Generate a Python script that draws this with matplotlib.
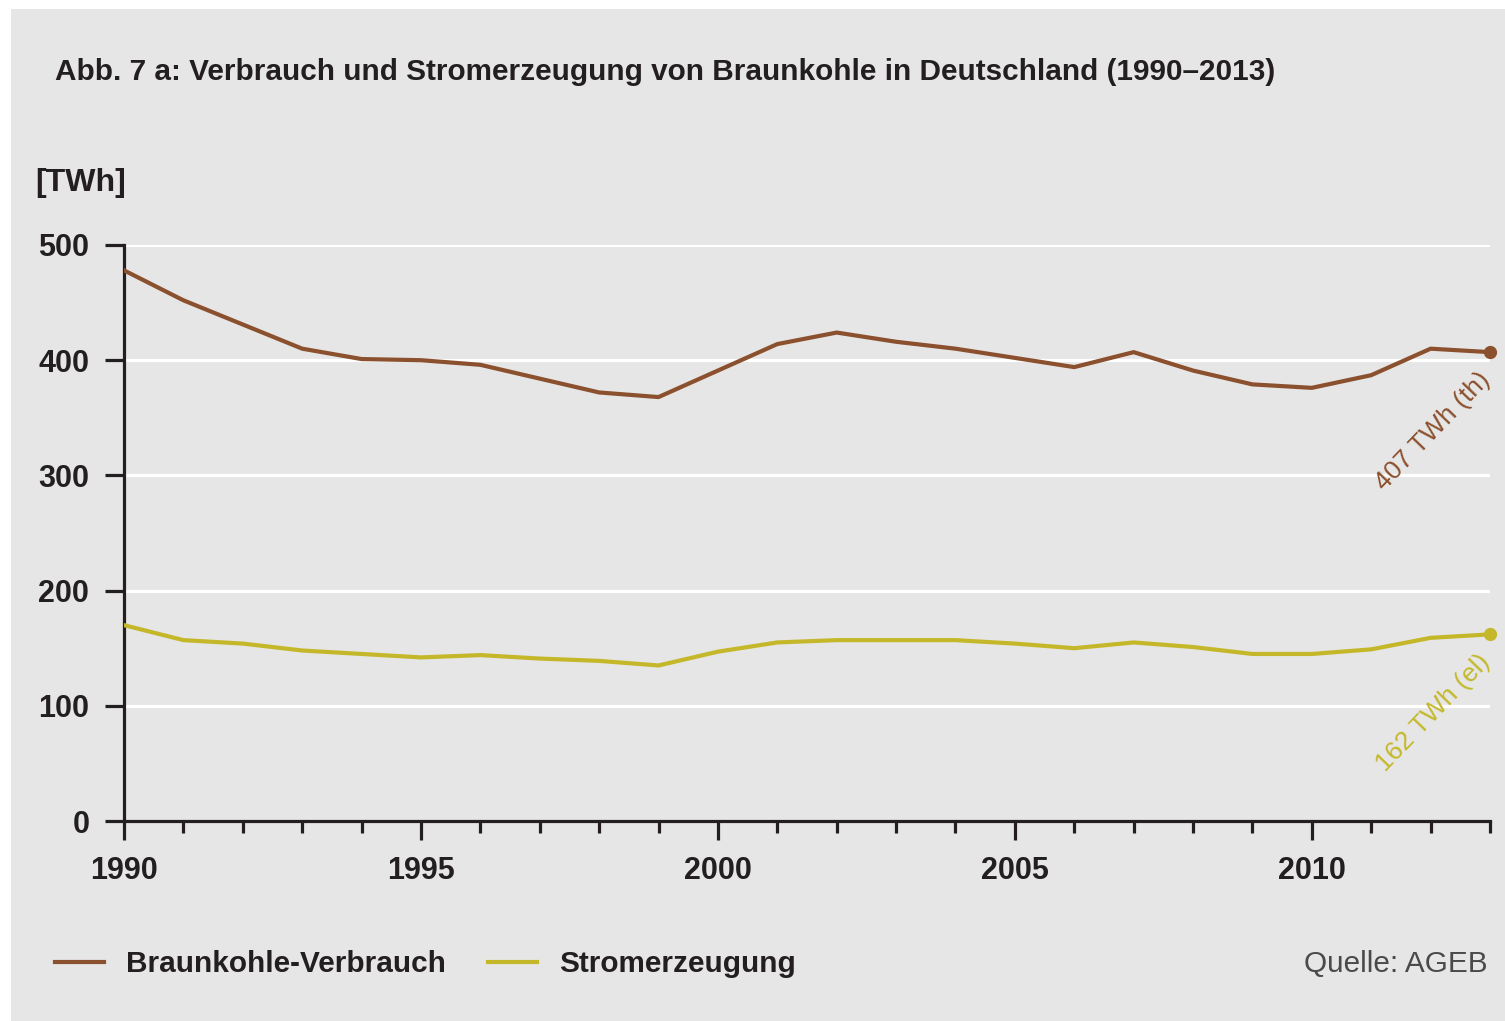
import matplotlib
matplotlib.use("Agg")
import matplotlib.pyplot as plt
from matplotlib.patches import Rectangle
from matplotlib.ticker import MultipleLocator

# Braunkohle in Deutschland, 1990–2013 (TWh)
years = list(range(1990, 2014))
verbrauch = [478, 452, 431, 410, 401, 400, 396, 384, 372, 368,
             391, 414, 424, 416, 410, 402, 394, 407, 391, 379,
             376, 387, 410, 407]
strom = [170, 157, 154, 148, 145, 142, 144, 141, 139, 135,
         147, 155, 157, 157, 157, 154, 150, 155, 151, 145,
         145, 149, 159, 162]

series_names = ["Braunkohle-Verbrauch", "Stromerzeugung"]
y_ticks = [0, 100, 200, 300, 400, 500]
x_ticks = [1990, 1995, 2000, 2005, 2010]

title = "Abb. 7 a: Verbrauch und Stromerzeugung von Braunkohle in Deutschland (1990–2013)"
unit = "[TWh]"
source = "Quelle: AGEB"

BROWN = "#8b502d"
YELLOW = "#c4b82a"
BG = "#e6e6e6"
INK = "#231f20"
FONT = ["Liberation Sans", "DejaVu Sans"]

plt.rcParams["font.family"] = FONT

W, H = 1505, 1021
fig = plt.figure(figsize=(W / 100, H / 100), dpi=100, facecolor="white")
fig.patches.append(Rectangle((11 / W, 0), 1 - 11 / W, (H - 9) / H,
                             transform=fig.transFigure, facecolor=BG,
                             edgecolor="none", zorder=-10))

left, right = 124 / W, 1490 / W
bottom, top = (H - 821) / H, (H - 245) / H
ax = fig.add_axes([left, bottom, right - left, top - bottom])
ax.set_facecolor(BG)

ax.set_xlim(1990, 2013)
ax.set_ylim(0, 500)

for v in y_ticks[1:]:
    ax.axhline(v, color="white", lw=2.3, zorder=1)

l1, = ax.plot(years, verbrauch, color=BROWN, lw=3.0, zorder=3,
              solid_joinstyle="round", label=series_names[0])
l2, = ax.plot(years, strom, color=YELLOW, lw=3.0, zorder=3,
              solid_joinstyle="round", label=series_names[1])
ax.plot(years[-1], verbrauch[-1], "o", color=BROWN, ms=8.5, clip_on=False, zorder=4)
ax.plot(years[-1], strom[-1], "o", color=YELLOW, ms=8.5, clip_on=False, zorder=4)

# end-value labels, running diagonally below the final points
label_kw = dict(xytext=(-9, -11), textcoords="offset points", rotation=46,
                rotation_mode="anchor", ha="right", va="top",
                fontsize=19, annotation_clip=False)
ax.annotate(f"{verbrauch[-1]} TWh (th)", xy=(years[-1], verbrauch[-1]),
            color=BROWN, **label_kw)
ax.annotate(f"{strom[-1]} TWh (el)", xy=(years[-1], strom[-1]),
            color=YELLOW, **label_kw)

for s in ("top", "right"):
    ax.spines[s].set_visible(False)
for s in ("left", "bottom"):
    ax.spines[s].set_color(INK)
    ax.spines[s].set_linewidth(2.3)

ax.set_yticks(y_ticks)
ax.set_xticks(x_ticks)
ax.xaxis.set_minor_locator(MultipleLocator(1))
ax.tick_params(axis="y", direction="out", length=14, width=2.3, color=INK,
               pad=11, labelsize=22, labelcolor=INK)
ax.tick_params(axis="x", which="major", direction="out", length=14, width=2.3,
               color=INK, pad=11, labelsize=22, labelcolor=INK)
ax.tick_params(axis="x", which="minor", direction="out", length=8.5, width=2.3,
               color=INK)
for lab in ax.get_xticklabels() + ax.get_yticklabels():
    lab.set_fontweight("bold")

fig.text(55 / W, (H - 72) / H, title, ha="left", va="center",
         fontsize=21.4, fontweight="bold", color=INK)
fig.text(35 / W, (H - 183) / H, unit, ha="left", va="center",
         fontsize=23, fontweight="bold", color=INK)
fig.text(1488 / W, (H - 964) / H, source, ha="right", va="center",
         fontsize=21.4, color="#4a4a4a")

leg = fig.legend(handles=[l1, l2], loc="center left",
                 bbox_to_anchor=(55 / W, (H - 964) / H),
                 bbox_transform=fig.transFigure, ncol=2, frameon=False,
                 borderpad=0, borderaxespad=0, handlelength=1.65,
                 handletextpad=0.75, columnspacing=1.4,
                 prop={"family": FONT, "weight": "bold", "size": 21.4})
for t in leg.get_texts():
    t.set_color(INK)

fig.savefig("out.png", dpi=100, facecolor="white")
